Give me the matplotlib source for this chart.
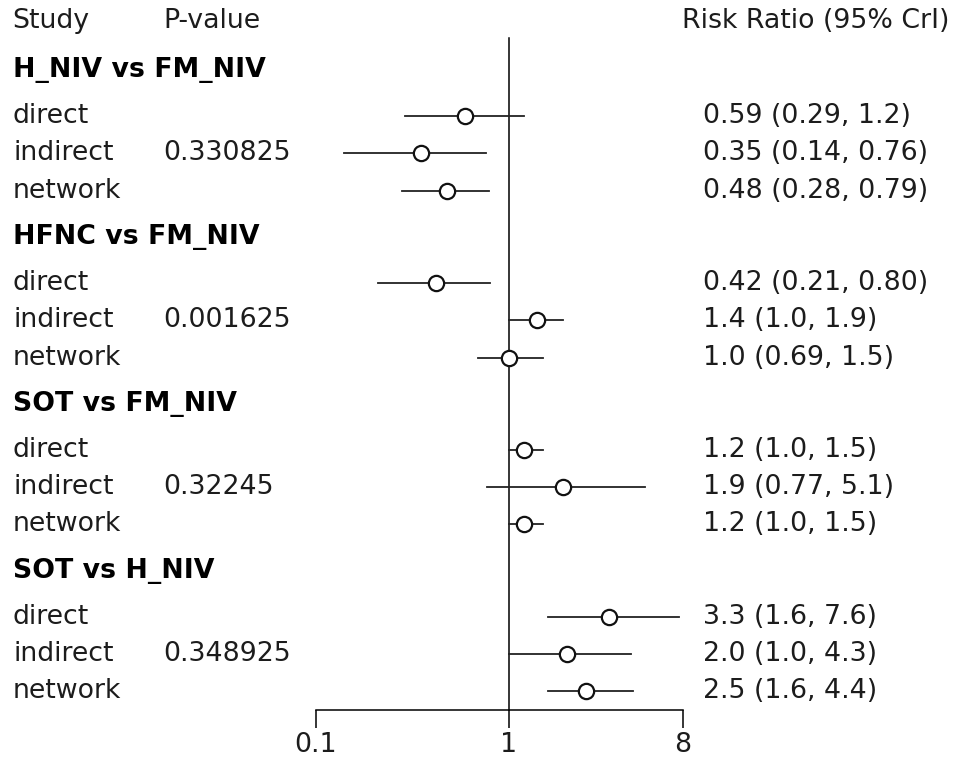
import matplotlib.pyplot as plt
from matplotlib import transforms
from matplotlib.ticker import FixedLocator, NullLocator


# Data
comparisons = ["H_NIV vs FM_NIV", "HFNC vs FM_NIV", "SOT vs FM_NIV", "SOT vs H_NIV"]
p_values = ["0.330825", "0.001625", "0.32245", "0.348925"]
row_names = ["direct", "indirect", "network"]

rr_mid = [[0.59, 0.35, 0.48],
          [0.42, 1.4, 1.0],
          [1.2, 1.9, 1.2],
          [3.3, 2.0, 2.5]]
rr_low = [[0.29, 0.14, 0.28],
          [0.21, 1.0, 0.69],
          [1.0, 0.77, 1.0],
          [1.6, 1.0, 1.6]]
rr_high = [[1.2, 0.76, 0.79],
           [0.80, 1.9, 1.5],
           [1.5, 5.1, 1.5],
           [7.6, 4.3, 4.4]]
rr_text = [["0.59 (0.29, 1.2)", "0.35 (0.14, 0.76)", "0.48 (0.28, 0.79)"],
           ["0.42 (0.21, 0.80)", "1.4 (1.0, 1.9)", "1.0 (0.69, 1.5)"],
           ["1.2 (1.0, 1.5)", "1.9 (0.77, 5.1)", "1.2 (1.0, 1.5)"],
           ["3.3 (1.6, 7.6)", "2.0 (1.0, 4.3)", "2.5 (1.6, 4.4)"]]
x_ticks = [0.1, 1, 8]
x_tick_labels = ["0.1", "1", "8"]


def main():
    plt.rcParams["font.family"] = ["DejaVu Sans"]
    fs = 19.3
    col = "#1c1c1c"

    W, H = 966, 765
    fig = plt.figure(figsize=(W / 100, H / 100), dpi=100)

    # forest panel: x from 0.1 to 8 spans pixel 316..683, rows are 37.1 px apart
    row_h = 37.1
    y0 = 70
    ax = fig.add_axes([316 / W, 0, (683 - 316) / W, 1])
    ax.set_xscale("log")
    ax.set_xlim(0.1, 8)
    ax.set_ylim((H - y0) / row_h, -y0 / row_h)
    ax.patch.set_visible(False)

    tr = transforms.blended_transform_factory(fig.transFigure, ax.transData)

    axis_y = (710 - y0) / row_h
    ax.plot([1, 1], [(38 - y0) / row_h, axis_y], color="black", lw=1.1)

    # column headers
    head_y = -1.32
    ax.text(12 / W, head_y, "Study", transform=tr, fontsize=fs,
            va="center", color=col)
    ax.text(163 / W, head_y, "P-value", transform=tr, fontsize=fs,
            va="center", color=col)
    ax.text(950 / W, head_y, "Risk Ratio (95% CrI)", transform=tr,
            fontsize=fs, va="center", ha="right", color=col)

    for g, comp in enumerate(comparisons):
        base = g * 4.5
        ax.text(13 / W, base, comp, transform=tr, fontsize=fs,
                fontweight="bold", va="center", color="black")
        for r, name in enumerate(row_names):
            y = base + 1.25 + r
            ax.text(13 / W, y, name, transform=tr, fontsize=fs,
                    va="center", color=col)
            if name == "indirect":
                ax.text(163 / W, y, p_values[g], transform=tr,
                        fontsize=fs, va="center", color=col)
            ax.text(703 / W, y, rr_text[g][r], transform=tr,
                    fontsize=fs, va="center", color=col)
            ax.plot([rr_low[g][r], rr_high[g][r]], [y, y],
                    color="#222222", lw=1.3, zorder=2)
            ax.plot(rr_mid[g][r], y, "o", ms=11, mfc="white",
                    mec="#111111", mew=1.6, zorder=3)

    # bottom axis
    for s in ["top", "left", "right"]:
        ax.spines[s].set_visible(False)
    ax.spines["bottom"].set_position(("data", axis_y))
    ax.spines["bottom"].set_linewidth(1.1)
    ax.xaxis.set_major_locator(FixedLocator(x_ticks))
    ax.xaxis.set_minor_locator(NullLocator())
    ax.set_xticklabels(x_tick_labels)
    ax.tick_params(axis="x", length=13, width=1.1, labelsize=fs, pad=3,
                   labelcolor=col)
    ax.set_yticks([])

    plt.savefig("out.png", dpi=100)


if __name__ == "__main__":
    main()
